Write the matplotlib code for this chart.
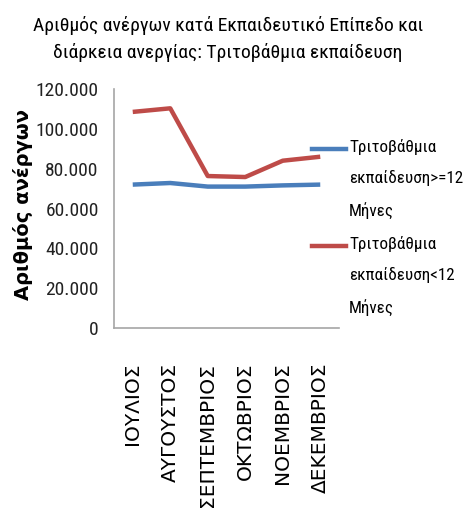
import matplotlib
matplotlib.use("Agg")
import matplotlib.pyplot as plt
from matplotlib.lines import Line2D
from matplotlib.ticker import FuncFormatter

months = ["ΙΟΥΛΙΟΣ", "ΑΥΓΟΥΣΤΟΣ", "ΣΕΠΤΕΜΒΡΙΟΣ", "ΟΚΤΩΒΡΙΟΣ", "ΝΟΕΜΒΡΙΟΣ", "ΔΕΚΕΜΒΡΙΟΣ"]
over12 = [72000, 72800, 71000, 71000, 71600, 72000]
under12 = [108500, 110300, 76300, 75800, 84000, 86000]
names = ["Τριτοβάθμια\nεκπαίδευση>=12\nΜήνες", "Τριτοβάθμια\nεκπαίδευση<12\nΜήνες"]
colors = ["#4A7EBB", "#BE4B48"]

narrow = ["Roboto Condensed", "DejaVu Sans"]

fig = plt.figure(figsize=(4.65, 5.31), dpi=100)
ax = fig.add_axes([114 / 465, 1 - 328 / 531, 225 / 465, 239 / 531])

x = range(len(months))
for vals, c in zip([over12, under12], colors):
    ax.plot(x, vals, color=c, lw=3.2, solid_capstyle="butt")

ax.set_xlim(-0.5, len(months) - 0.5)
ax.set_ylim(0, 120000)
ax.set_yticks(range(0, 120001, 20000))
ax.yaxis.set_major_formatter(FuncFormatter(lambda v, p: f"{int(v):,}".replace(",", ".")))
ax.set_xticks(list(x))
ax.set_xticklabels(months, rotation=90, fontsize=14.5, family="DejaVu Sans", va="top")
for t in ax.get_yticklabels():
    t.set_family(narrow)
    t.set_fontsize(14)
    t.set_color("#222222")
ax.tick_params(axis="both", length=0)
ax.tick_params(axis="x", pad=25)
ax.tick_params(axis="y", pad=11)

for s in ["top", "right"]:
    ax.spines[s].set_visible(False)
for s in ["left", "bottom"]:
    ax.spines[s].set_color("#A6A6A6")
    ax.spines[s].set_linewidth(1.2)

fig.text(23 / 465, 1 - 205 / 531, "Αριθμός ανέργων", rotation=90, ha="center", va="center",
         fontsize=14, fontweight="bold", family="DejaVu Sans")

fig.text(228 / 465, 1 - 39 / 531, "Αριθμός ανέργων κατά Εκπαιδευτικό Επίπεδο και\nδιάρκεια ανεργίας: Τριτοβάθμια εκπαίδευση",
         ha="center", va="center", fontsize=14, family=narrow, linespacing=1.55)

# legend
for i, (name, c) in enumerate(zip(names, colors)):
    y0 = 1 - (149 + i * 97) / 531
    fig.add_artist(Line2D([312 / 465, 346 / 465], [y0, y0], color=c, lw=3.2, transform=fig.transFigure))
    fig.text(349 / 465, y0 + 10 / 531, name, ha="left", va="top", fontsize=12.3, family=narrow, linespacing=2.15)

fig.savefig("out.png", dpi=100)
